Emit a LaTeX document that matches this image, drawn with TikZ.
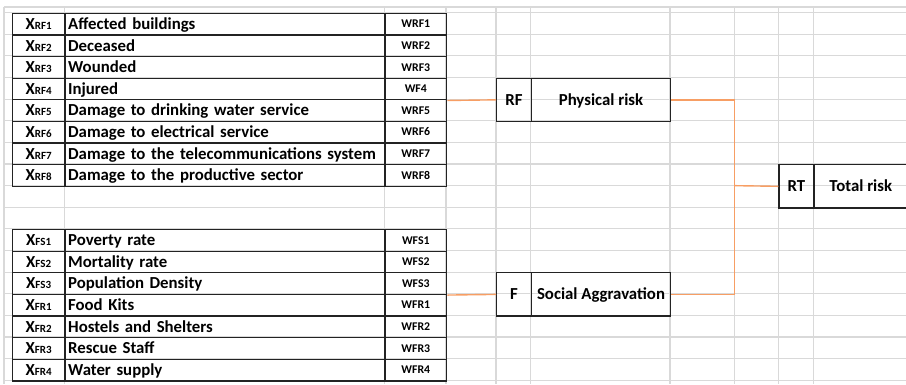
\documentclass[tikz,border=0pt]{standalone}
\usepackage{fontspec}
\setmainfont{Carlito}
\definecolor{gridc}{RGB}{217,217,217}
\definecolor{connc}{RGB}{247,158,100}
\definecolor{bord}{RGB}{35,35,35}
\newcommand\xsub[1]{X{\fontsize{11}{12}\selectfont #1}}
\newcommand\wsmall{\fontsize{11.8}{13}\selectfont}
\begin{document}
\begin{tikzpicture}[x=1pt,y=-1pt,
  font=\fontsize{16.8}{18}\selectfont\bfseries,
  gridl/.style={draw=gridc, line width=1.1pt},
  cell/.style={draw=bord, line width=1.3pt, minimum height=21.62pt, inner sep=0pt,
    anchor=north west, text height=12.7pt, text depth=2.2pt},
  desc/.style={cell, text width=313.6pt, inner xsep=3.2pt, align=left},
  xcell/.style={cell, minimum width=52.6pt},
  wcell/.style={cell, minimum width=61.7pt, font=\wsmall\bfseries, text height=9.4pt, text depth=2pt},
  bigcell/.style={cell, minimum height=43.24pt},
  connector/.style={draw=connc, line width=1.4pt}]
\useasboundingbox (0,0) rectangle (906,384);
\clip (0,0) rectangle (906,384);
% spreadsheet grid
\draw[gridl] (4,7) -- (906,7);
\foreach \k in {0,...,17} \draw[gridl] (4,{12.7+21.62*\k}) -- (906,{12.7+21.62*\k});
\foreach \xx in {4,64.3,384.3,446,496,530.7,670,734.3,778.3,813.3}
  \draw[gridl] (\xx,7) -- (\xx,384);
% first table
\foreach \i/\lab/\txt/\w in {0/RF1/Affected buildings/WRF1,
  1/RF2/Deceased/WRF2,
  2/RF3/Wounded/WRF3,
  3/RF4/Injured/WF4,
  4/RF5/Damage to drinking water service/WRF5,
  5/RF6/Damage to electrical service/WRF6,
  6/RF7/Damage to the telecommunications system/WRF7,
  7/RF8/Damage to the productive sector/WRF8,
  10/FS1/Poverty rate/WFS1,
  11/FS2/Mortality rate/WFS2,
  12/FS3/Population Density/WFS3,
  13/FR1/Food Kits/WFR1,
  14/FR2/Hostels and Shelters/WFR2,
  15/FR3/Rescue Staff/WFR3,
  16/FR4/Water supply/WFR4}{
  \node[xcell] (x\i) at (11.7,{12.7+21.62*\i}) {\xsub{\lab}};
  \node[desc] (d\i) at (64.3,{12.7+21.62*\i}) {\txt};
  \node[wcell] (w\i) at (384.3,{12.7+21.62*\i}) {\w};
}
% aggregate boxes
\node[bigcell, minimum width=34.7pt] (rf) at (496,{12.7+21.62*3}) {RF};
\node[bigcell, minimum width=139.3pt] (pr) at (530.7,{12.7+21.62*3}) {Physical risk};
\node[bigcell, minimum width=34.7pt] (f) at (496,{12.7+21.62*12}) {F};
\node[bigcell, minimum width=139.3pt] (sa) at (530.7,{12.7+21.62*12}) {Social Aggravation};
\node[bigcell, minimum width=35pt] (rt) at (778.3,{12.7+21.62*7}) {RT};
\node[bigcell, minimum width=93.7pt] (tr) at (813.3,{12.7+21.62*7}) {Total risk};
% connectors
\coordinate (j) at (734.3,{12.7+21.62*8});
\draw[connector] (w3.south east) -- (rf.west);
\draw[connector] (w12.south east) -- (f.west);
\draw[connector] (pr.east) -| (j);
\draw[connector] (sa.east) -| (j);
\draw[connector] (j) -- (rt.west);
\end{tikzpicture}
\end{document}
